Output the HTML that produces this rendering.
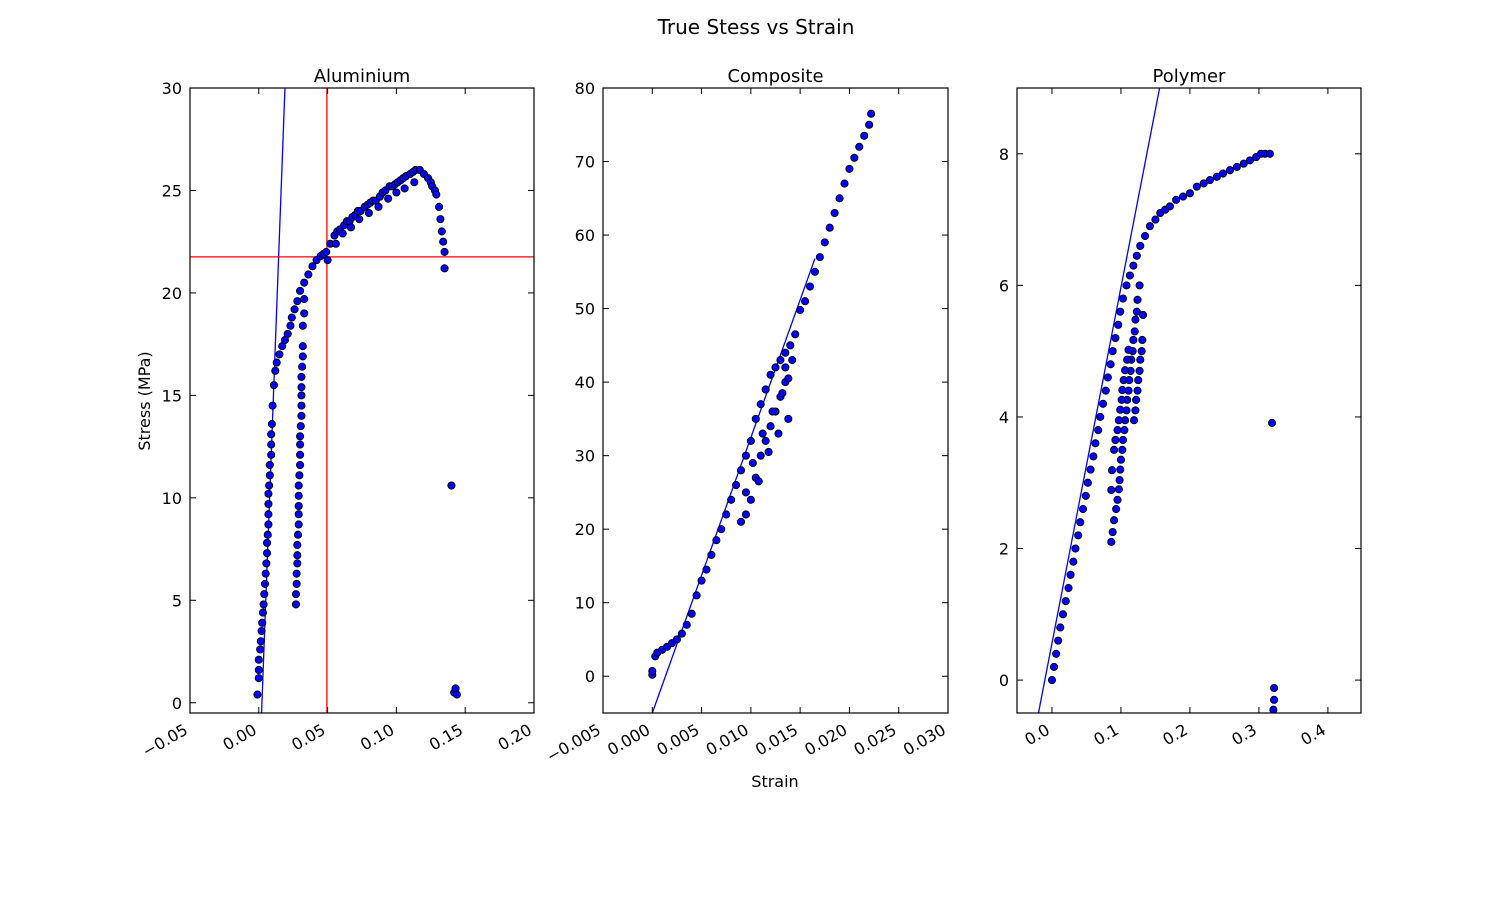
<!DOCTYPE html>
<html><head><meta charset="utf-8"><style>
body{margin:0;background:#fff;}
svg text{font-family:"DejaVu Sans","Liberation Sans",sans-serif;fill:#000;}
</style></head><body>
<svg id="fig" width="1512" height="892" xmlns="http://www.w3.org/2000/svg">
<rect width="1512" height="892" fill="#fff"/>
<text x="756" y="34" font-size="20" text-anchor="middle">True Stess vs Strain</text>
<text transform="translate(150,401) rotate(-90)" font-size="16" text-anchor="middle">Stress (MPa)</text>
<text x="775" y="787" font-size="16" text-anchor="middle">Strain</text>
</svg>
<script>
// ---- Aluminium data ----
const alStrain=[-0.001,0,0,0,0.001,0.0015,0.002,0.0025,0.003,0.0035,0.004,0.0045,0.005,0.0055,0.006,0.006,0.0065,0.007,0.007,0.007,0.007,0.0075,0.008,0.008,0.009,0.009,0.009,0.0095,0.010,0.011,0.012,0.013,0.015,0.017,0.019,0.021,0.023,0.024,0.026,0.028,0.030,0.033,0.036,0.039,0.042,0.045,0.047,0.049,0.052,0.055,0.057,0.059,0.062,0.064,0.066,0.068,0.070,0.072,0.074,0.077,0.079,0.081,0.083,0.085,0.088,0.090,0.092,0.095,0.097,0.099,0.101,0.103,0.105,0.107,0.110,0.112,0.114,0.117,0.120,0.123,0.125,0.126,0.128,0.129,0.131,0.132,0.133,0.134,0.135,0.135,0.140,0.142,0.143,0.144,
0.027,0.027,0.0275,0.0275,0.028,0.028,0.028,0.0285,0.029,0.029,0.029,0.029,0.029,0.0295,0.030,0.030,0.030,0.030,0.0305,0.031,0.031,0.031,0.031,0.031,0.0315,0.032,0.032,0.032,0.033,0.033,
0.050,0.056,0.061,0.067,0.073,0.080,0.087,0.094,0.100,0.106,0.113];
const alStress=[0.4,1.2,1.6,2.1,2.6,3.0,3.5,3.9,4.4,4.8,5.3,5.8,6.3,6.8,7.3,7.8,8.2,8.7,9.2,9.7,10.2,10.6,11.1,11.6,12.1,12.6,13.1,13.6,14.5,15.5,16.2,16.6,17.0,17.4,17.7,18.0,18.4,18.8,19.2,19.6,20.1,20.5,20.9,21.3,21.6,21.8,21.9,22.0,22.4,22.8,23.0,23.1,23.3,23.5,23.5,23.7,23.8,24.0,24.0,24.2,24.3,24.4,24.5,24.5,24.7,24.9,25.0,25.2,25.2,25.3,25.4,25.5,25.6,25.7,25.8,25.9,26.0,26.0,25.8,25.6,25.4,25.2,25.0,24.8,24.2,23.6,23.0,22.5,22.0,21.2,10.6,0.5,0.7,0.4,
4.8,5.3,5.8,6.3,6.8,7.2,7.7,8.2,8.7,9.2,9.6,10.1,10.6,11.1,11.6,12.1,12.6,13.0,13.5,14.0,14.5,15.0,15.4,15.9,16.4,16.9,17.4,18.4,19.0,19.7,
21.6,22.4,22.9,23.2,23.6,23.9,24.2,24.6,24.9,25.1,25.4];
const alXTicks=[-0.05,0.00,0.05,0.10,0.15,0.20];
const alXLabels=["\u22120.05","0.00","0.05","0.10","0.15","0.20"];
const alYTicks=[0,5,10,15,20,25,30];
const alFitX=[0.002,0.019]; const alFitY=[-0.5,30];
const alYieldStrain=0.0495; const alYieldStress=21.76;

// ---- Composite data ----
const coStrain=[0.000,0.000,0.0003,0.0005,0.001,0.0015,0.002,0.0025,0.003,0.0035,0.004,0.0045,0.005,0.0055,0.006,0.0065,0.007,0.0075,0.008,0.0085,0.009,0.0095,0.010,0.0105,0.011,0.0115,0.012,0.0125,0.013,0.0135,0.014,
0.009,0.0095,0.010,0.0105,0.011,0.0115,0.012,0.0125,0.013,0.0135,0.0135,0.0138,
0.0145,0.015,0.0155,0.016,0.0165,0.017,0.0175,0.018,0.0185,0.019,0.0195,0.020,0.0205,0.021,0.0215,0.022,0.0222,
0.0095,0.0102,0.0108,0.0112,0.0118,0.0122,0.0128,0.0132,0.0138,0.0142];
const coStress=[0.2,0.7,2.7,3.2,3.6,4.0,4.5,5.0,5.8,7.0,8.5,11.0,13.0,14.5,16.5,18.5,20.0,22.0,24.0,26.0,28.0,30.0,32.0,35.0,37.0,39.0,41.0,42.0,43.0,44.0,45.0,
21.0,22.0,24.0,27.0,30.0,32.0,34.0,36.0,38.0,40.0,42.0,40.5,
46.5,49.8,51.0,53.0,55.0,57.0,59.0,61.0,63.0,65.0,67.0,69.0,70.5,72.0,73.5,75.0,76.5,
25.0,29.0,26.5,33.0,30.5,36.0,33.0,38.5,35.0,43.0];
const coXTicks=[-0.005,0.000,0.005,0.010,0.015,0.020,0.025,0.030];
const coXLabels=["\u22120.005","0.000","0.005","0.010","0.015","0.020","0.025","0.030"];
const coYTicks=[0,10,20,30,40,50,60,70,80];
const coFitX=[0.0,0.0165]; const coFitY=[-5,56.8];

// ---- Polymer data ----
const poStrain=[0.0,0.003,0.006,0.009,0.012,0.016,0.020,0.024,0.027,0.031,0.034,0.038,0.041,0.045,0.049,0.052,0.056,0.060,0.063,0.067,0.070,0.074,0.078,0.081,0.085,0.088,0.092,0.096,0.099,0.103,0.108,0.113,0.118,0.123,0.128,0.135,0.142,0.150,0.157,0.164,0.171,0.180,0.190,0.200,0.210,0.220,0.229,0.239,0.248,0.258,0.268,0.278,0.287,0.296,0.303,0.309,0.316,
0.086,0.088,0.090,0.093,0.095,0.097,0.098,0.099,0.100,0.102,0.103,0.105,0.106,0.108,0.109,0.111,0.112,0.114,0.115,0.117,0.118,0.120,0.121,0.123,0.124,0.127,
0.086,0.087,0.090,0.092,0.095,0.097,0.099,0.101,0.102,0.104,0.106,0.109,0.111,
0.119,0.121,0.122,0.124,0.125,0.127,0.128,0.130,0.131,0.132,
0.319,0.322,0.322,0.321];
const poStress=[0.0,0.2,0.4,0.6,0.8,1.0,1.2,1.4,1.6,1.8,2.0,2.2,2.4,2.6,2.8,3.0,3.2,3.4,3.6,3.8,4.0,4.2,4.4,4.6,4.8,5.0,5.2,5.4,5.6,5.8,6.0,6.15,6.3,6.45,6.6,6.75,6.9,7.0,7.1,7.15,7.2,7.3,7.35,7.4,7.5,7.55,7.6,7.65,7.7,7.75,7.8,7.85,7.9,7.95,8.0,8.0,8.0,
2.10,2.25,2.43,2.6,2.74,2.9,3.04,3.2,3.35,3.5,3.65,3.8,3.95,4.1,4.26,4.4,4.56,4.7,4.87,5.0,5.17,5.3,5.48,5.6,5.78,6.0,
2.89,3.19,3.50,3.65,3.80,3.95,4.11,4.26,4.41,4.56,4.71,4.87,5.02,
3.95,4.1,4.26,4.4,4.56,4.7,4.87,5.0,5.17,5.55,
3.91,-0.12,-0.30,-0.45];
const poXTicks=[0.0,0.1,0.2,0.3,0.4];
const poXLabels=["0.0","0.1","0.2","0.3","0.4"];
const poYTicks=[0,2,4,6,8];
const poFitX=[-0.0196,0.156]; const poFitY=[-0.5,9.0];

const NS="http://www.w3.org/2000/svg";
const svg=document.getElementById('fig');
function mk(tag,attrs,parent){const e=document.createElementNS(NS,tag);for(const k in attrs)e.setAttribute(k,attrs[k]);(parent||svg).appendChild(e);return e;}

function panel(cfg){
  const {name,L,R,T,B,xmin,xmax,ymin,ymax,sx,sy,xt,xl,yt,fx,fy}=cfg;
  const g=mk('g',{});
  
  
  const X=v=>L+(v-xmin)/(xmax-xmin)*(R-L);
  const Y=v=>B-(v-ymin)/(ymax-ymin)*(B-T);
  const cid='clip-'+name;
  const cp=mk('clipPath',{id:cid},g); mk('rect',{x:L,y:T,width:R-L,height:B-T},cp);
  const plot=mk('g',{'clip-path':'url(#'+cid+')'},g);
  const fl=mk('line',{x1:X(fx[0]),y1:Y(fy[0]),x2:X(fx[1]),y2:Y(fy[1]),stroke:'#0000ff','stroke-width':1.3},plot);
  
  
  if(cfg.hy!==undefined){
    const h=mk('line',{x1:L,x2:R,y1:Y(cfg.hy),y2:Y(cfg.hy),stroke:'#ff0000','stroke-width':1.3},plot);
    
    
    const v=mk('line',{x1:X(cfg.vx),x2:X(cfg.vx),y1:T,y2:B,stroke:'#ff0000','stroke-width':1.3},plot);
    
    
  }
  const n=Math.min(sx.length,sy.length);
  for(let i=0;i<n;i++){
    const c=mk('circle',{cx:X(sx[i]),cy:Y(sy[i]),r:3.6,fill:'#0000ff',stroke:'#000','stroke-width':0.9},plot);
    
    
  }
  const fr=mk('rect',{x:L,y:T,width:R-L,height:B-T,fill:'none',stroke:'#000','stroke-width':1.2},g);
  
  
  xt.forEach((t,i)=>{
    const x=X(t);
    if(x<L-1||x>R+1)return;
    mk('line',{x1:x,x2:x,y1:B,y2:B-6,stroke:'#000'},g);
    mk('line',{x1:x,x2:x,y1:T,y2:T+6,stroke:'#000'},g);
    const tx=mk('text',{transform:`translate(${x-1},${B+20}) rotate(-30)`,'font-size':16,'text-anchor':'end'},g);
    tx.textContent=xl[i];
    
    
  });
  yt.forEach(t=>{
    const y=Y(t);
    mk('line',{x1:L,x2:L+6,y1:y,y2:y,stroke:'#000'},g);
    mk('line',{x1:R,x2:R-6,y1:y,y2:y,stroke:'#000'},g);
    const tx=mk('text',{x:L-8,y:y+6,'font-size':16,'text-anchor':'end'},g);
    tx.textContent=String(t);
    
    
  });
  const tt=mk('text',{x:(L+R)/2,y:T-6,'font-size':18,'text-anchor':'middle'},g);
  tt.textContent=cfg.title;
  
  
}
panel({name:'aluminium',title:'Aluminium',L:190,R:534,T:88,B:713,xmin:-0.05,xmax:0.20,ymin:-0.5,ymax:30,sx:alStrain,sy:alStress,xt:alXTicks,xl:alXLabels,yt:alYTicks,fx:alFitX,fy:alFitY,hy:alYieldStress,vx:alYieldStrain});
panel({name:'composite',title:'Composite',L:603,R:948,T:88,B:713,xmin:-0.005,xmax:0.030,ymin:-5,ymax:80,sx:coStrain,sy:coStress,xt:coXTicks,xl:coXLabels,yt:coYTicks,fx:coFitX,fy:coFitY});
panel({name:'polymer',title:'Polymer',L:1017,R:1361,T:88,B:713,xmin:-0.0507,xmax:0.448,ymin:-0.5,ymax:9.0,sx:poStrain,sy:poStress,xt:poXTicks,xl:poXLabels,yt:poYTicks,fx:poFitX,fy:poFitY});
</script>
</body></html>
